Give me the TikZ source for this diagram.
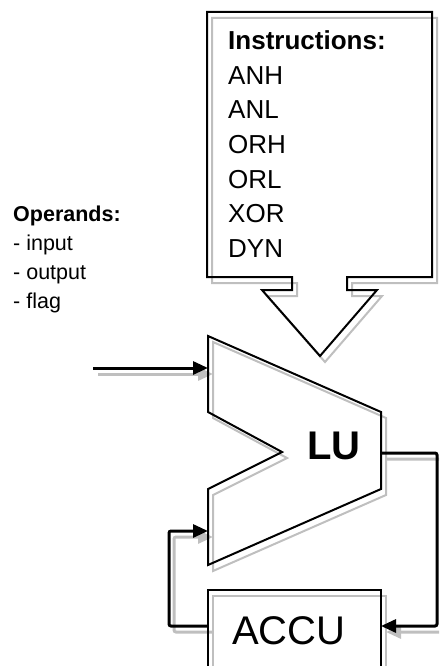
\documentclass[tikz,border=0pt]{standalone}
\usepackage{fontspec}
\setmainfont{Liberation Sans}
\usetikzlibrary{arrows.meta}

\definecolor{shadowgrey}{gray}{0.75}

\tikzset{
  shadowpass/.style={draw=shadowgrey, transform canvas={shift={(5,6)}}},
  mainpass/.style={draw=black},
  outline/.style={line width=2pt},
  wire/.style={line width=3pt, rounded corners=2pt},
  listtext/.style={anchor=base west, inner sep=0pt, font=\fontsize{26}{31}\selectfont},
  optext/.style={anchor=base west, inner sep=0pt, font=\fontsize{21.5}{26}\selectfont},
  bigtext/.style={anchor=base west, inner sep=0pt, font=\fontsize{40}{48}\selectfont},
}

\begin{document}
\begin{tikzpicture}[x=1pt, y=-1pt, >={Triangle[length=15pt, width=13pt]}]
  \useasboundingbox (0,0) rectangle (439,666);
  \clip (0,0) rectangle (439,666);

  % connector end points
  \coordinate (inSrc) at (93,368);
  \coordinate (luInA) at (208,368);
  \coordinate (luInB) at (208,531);
  \coordinate (luOut) at (381,453);
  \coordinate (accuIn) at (381,626);
  \coordinate (accuOut) at (208,626);

  % every shape twice: grey shadow first, black line on top
  \foreach \pass in {shadowpass, mainpass} {
    % instruction callout
    \draw[outline, \pass] (207,12) -- (432,12) -- (432,277) -- (347,277) -- (347,290)
      -- (377,290) -- (320,356) -- (262,290) -- (292,290) -- (292,277) -- (207,277) -- cycle;
    % logic unit
    \draw[outline, \pass] (208,336) -- (381,412) -- (381,489) -- (208,565) -- (208,489)
      -- (282,452) -- (208,412) -- cycle;
    % accumulator
    \draw[outline, \pass] (208,590) rectangle (381,700);
    % wires
    \draw[wire, \pass, ->] (inSrc) -- (luInA);
    \draw[wire, \pass, ->] (luOut) -- ++(56,0) |- (accuIn);
    \draw[wire, \pass, ->] (accuOut) -- ++(-39,0) |- (luInB);
  }

  % instruction list
  \node[listtext, font=\fontsize{26}{31}\selectfont\bfseries] (instrHead) at (228,50) {Instructions:};
  \foreach \op [count=\i] in {ANH,ANL,ORH,ORL,XOR,DYN}
    \node[listtext] (instr\i) at (228,50+34.5*\i) {\op};

  % operand list
  \node[optext, font=\fontsize{21.5}{26}\selectfont\bfseries] (opHead) at (13,221) {Operands:};
  \foreach \arg [count=\i] in {input,output,flag}
    \node[optext] (op\i) at (13,221+29.3*\i) {- \arg};

  % block labels
  \node[bigtext, font=\fontsize{40}{48}\selectfont\bfseries] (lu) at (307,459) {LU};
  \node[bigtext] (accu) at (232,644) {ACCU};
\end{tikzpicture}
\end{document}
